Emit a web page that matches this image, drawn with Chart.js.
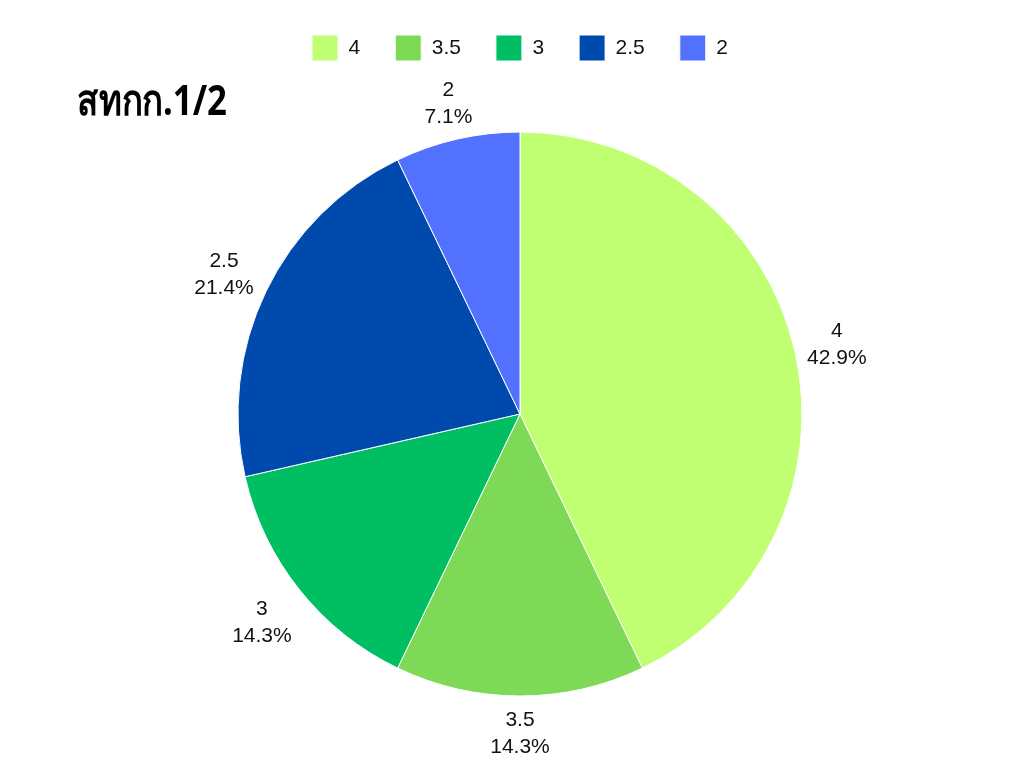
<!DOCTYPE html>
<html>
<head>
<meta charset="utf-8">
<script src="https://cdn.jsdelivr.net/npm/chart.js@4"></script>
<style>
  html, body { margin: 0; padding: 0; background: #fff; }
  #wrap { width: 1024px; height: 768px; }
</style>
</head>
<body>
<div id="wrap"><canvas id="myChart" width="1024" height="768"></canvas></div>
<script>
// datos del gráfico
const chartTitle = 'สทกก.1/2';
const grades = ['4', '3.5', '3', '2.5', '2'];
const studentCounts = [6, 2, 2, 3, 1];
const sliceColors = ['#C1FF72', '#7ED957', '#00BF63', '#004AAD', '#5271FF'];

// etiquetas fuera del pastel: categoría + porcentaje
const outsideLabels = {
  id: 'outsideLabels',
  afterDatasetsDraw(chart) {
    const ctx = chart.ctx;
    const meta = chart.getDatasetMeta(0);
    const total = studentCounts.reduce((a, b) => a + b, 0);
    ctx.save();
    ctx.font = '21px "Liberation Sans", Arial, sans-serif';
    ctx.fillStyle = '#111';
    ctx.textAlign = 'center';
    ctx.textBaseline = 'middle';
    meta.data.forEach((arc, i) => {
      const mid = (arc.startAngle + arc.endAngle) / 2;
      const ux = Math.cos(mid), uy = Math.sin(mid);
      const pct = (studentCounts[i] / total * 100).toFixed(1) + '%';
      // la caja del texto queda a una distancia fija del borde
      const halfW = Math.max(ctx.measureText(grades[i]).width, ctx.measureText(pct).width) / 2;
      const r = arc.outerRadius + 8 + halfW * Math.abs(ux) + 27 * Math.abs(uy);
      const x = arc.x + ux * r;
      const y = arc.y + uy * r + 3;
      ctx.fillText(grades[i], x, y - 13.5);
      ctx.fillText(pct, x, y + 13.5);
    });
    ctx.restore();
  }
};

// título a la izquierda
const cornerTitle = {
  id: 'cornerTitle',
  afterDraw(chart) {
    const ctx = chart.ctx;
    ctx.save();
    ctx.font = 'bold 42px "Noto Sans", sans-serif';
    ctx.fillStyle = '#000';
    ctx.textAlign = 'left';
    ctx.textBaseline = 'middle';
    const w = ctx.measureText(chartTitle).width;
    ctx.translate(77, 103);
    ctx.scale(150 / w, 1);
    ctx.fillText(chartTitle, 0, 0);
    ctx.restore();
  }
};

const ctx = document.getElementById('myChart').getContext('2d');
new Chart(ctx, {
  type: 'pie',
  data: {
    labels: grades,
    datasets: [{
      data: studentCounts,
      backgroundColor: sliceColors,
      borderColor: '#fff',
      borderWidth: 1,
      radius: 282
    }]
  },
  options: {
    responsive: false,
    animation: false,
    layout: { padding: { top: 0, bottom: 11, left: 16, right: 0 } },
    plugins: {
      legend: {
        position: 'top',
        labels: {
          boxWidth: 26,
          boxHeight: 26,
          padding: 35,
          color: '#111',
          font: { size: 21, family: '"Liberation Sans", Arial, sans-serif' }
        }
      },
      tooltip: { enabled: false }
    }
  },
  plugins: [outsideLabels, cornerTitle]
});
</script>
</body>
</html>
